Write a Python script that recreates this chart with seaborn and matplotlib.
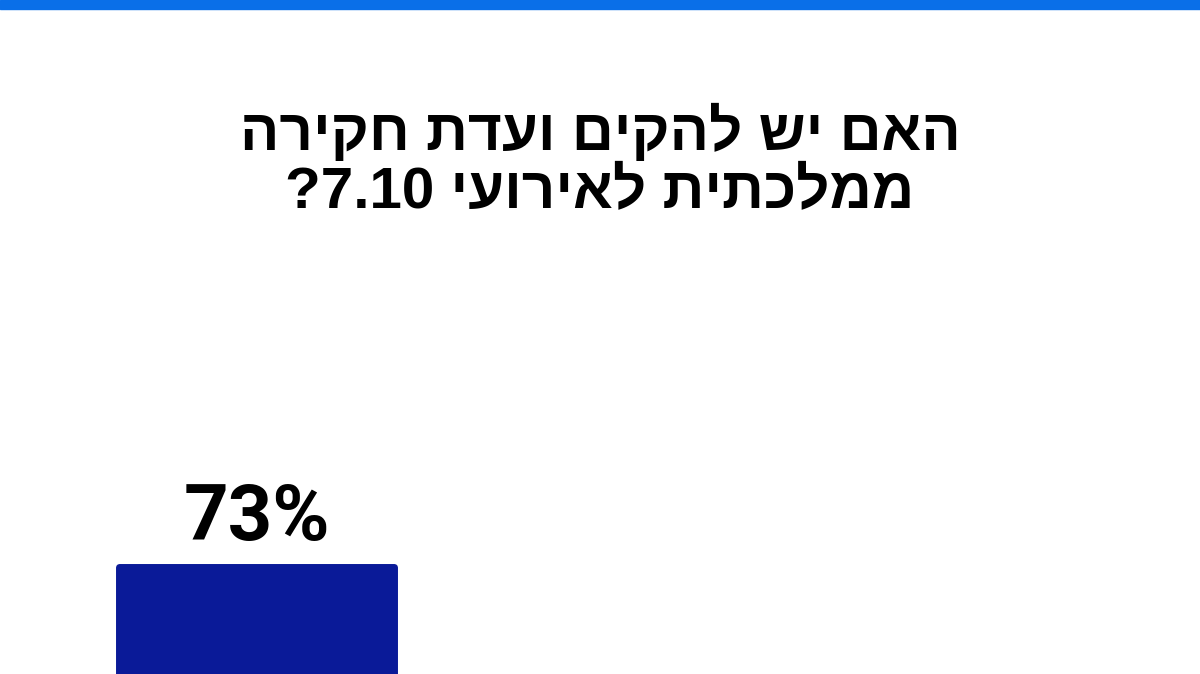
import matplotlib
matplotlib.use("Agg")
import matplotlib.pyplot as plt
import seaborn as sns
import pandas as pd

# poll question (logical Hebrew order), visible bar value
title_lines = ["האם יש להקים ועדת חקירה", "ממלכתית לאירועי 7.10?"]
positions = [0]
values = [73]
labels = ["73%"]


def visual(s):
    # matplotlib has no bidi support: lay out right-to-left by hand
    out = []
    for w in s.split(" ")[::-1]:
        if any("\u0590" <= c <= "\u05ff" for c in w):
            out.append(w[::-1])
        else:
            # number with trailing punctuation: move punctuation to the left
            core = w.rstrip("?!.,")
            out.append(w[len(core):] + core)
    return " ".join(out)


sns.set_theme(style="white")
plt.rcParams["font.family"] = ["Liberation Sans Narrow", "Liberation Sans", "DejaVu Sans"]

fig = plt.figure(figsize=(12, 6.74), dpi=100)
ax = fig.add_axes([0, 0, 1, 1])

df = pd.DataFrame({"pos": positions, "value": values})
sns.barplot(data=df, x="pos", y="value", order=[0, 1, 2], color="#0a1a98",
            saturation=1, width=0.78, ax=ax)
for p in ax.patches:
    p.set_edgecolor("#0a1a98")
    p.set_linewidth(5)
    p.set_joinstyle("round")

# bar width 283 px, centred at x=256 px; top at 567 px from the top
px = 0.8 / 283
ax.set_xlim(-256.5 * px, (1200 - 256.5) * px)
ypx = 0.2
ax.set_ylim(73 - 107 * ypx, 73 + 567 * ypx)
ax.set_axis_off()

for x, v, lab in zip(positions, values, labels):
    ax.annotate(lab, (x, v), xytext=(0, 8), textcoords="offset points",
                ha="center", va="bottom", fontsize=56, fontweight="bold",
                family=["Roboto", "DejaVu Sans"], color="black")

fig.text(0.5, 1 - 133 / 674, visual(title_lines[0]), ha="center", va="center",
         fontsize=42, fontweight="bold", color="black")
fig.text(0.5, 1 - 192 / 674, visual(title_lines[1]), ha="center", va="center",
         fontsize=42, fontweight="bold", color="black")

# blue strip along the top edge
fig.patches.append(plt.Rectangle((0, 1 - 9 / 674), 1, 9 / 674, transform=fig.transFigure,
                                 color="#0a6fe8", zorder=5))

fig.savefig("out.png", dpi=100)
